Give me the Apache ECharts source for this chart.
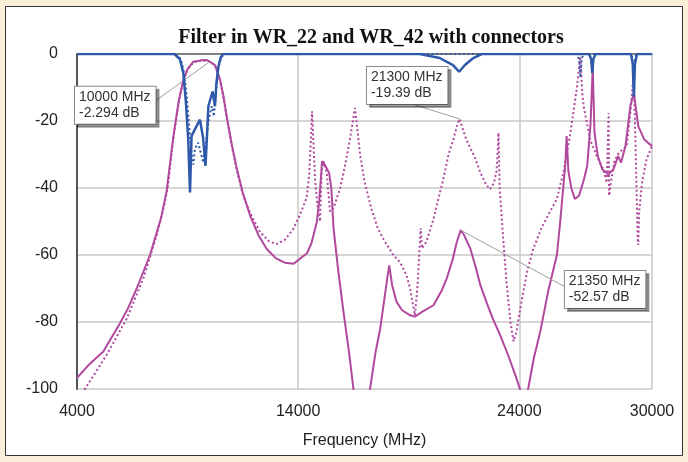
<!DOCTYPE html>
<html>
<head>
<meta charset="utf-8">
<script src="https://cdn.jsdelivr.net/npm/echarts@6/dist/echarts.min.js"></script>
<style>
  html, body { margin: 0; padding: 0; background: #fcefd9; }
  #chart { width: 688px; height: 462px; }
</style>
</head>
<body>
<div id="chart"></div>
<script>
// frequency (MHz), level (dB)
const magentaSolid = [
  [4000,-96.7],[4500,-93],[5190,-88.8],[5945,-80.4],[6300,-76],[6700,-70],[7300,-60],[7800,-49],
  [8050,-41],[8360,-24.5],[8600,-14],[8810,-7.7],[9000,-4.5],[9260,-2.3],[9600,-1.9],[9870,-1.8],
  [10000,-2.294],[10240,-3.3],[10470,-7.7],[10620,-12.5],[10770,-18.6],[11000,-27],[11220,-34],
  [11500,-41.5],[11830,-48.3],[12200,-54],[12580,-58.2],[13000,-61],[13400,-62.3],[13800,-62.6],
  [14100,-61],[14400,-59.5],[14600,-56.5],[14840,-50.3],[14950,-44],[15030,-37],[15080,-32],
  [15200,-33],[15400,-35.5],[15500,-40],[15600,-52],[15800,-64],[16050,-77],[16300,-89],[16500,-100],
  [16800,-115],[17000,-115],[17250,-100],[17500,-89],[17710,-82],[17900,-73],[18050,-66],[18120,-63.1],
  [18250,-69],[18450,-74],[18700,-76.5],[19060,-78],[19280,-78.4],[19600,-77],[20120,-75],[20500,-70.5],
  [20720,-67],[21000,-61],[21170,-56.2],[21350,-52.57],[21500,-54],[21780,-58],[22000,-63],[22240,-69],
  [22540,-74.5],[22800,-79],[23140,-84],[23500,-90],[23800,-95.5],[24030,-100],[24200,-112],[24400,-100],
  [24650,-91],[24950,-82.8],[25300,-71],[25700,-60],[25850,-50],[25980,-40.4],[26080,-33],[26140,-24.5],
  [26220,-35],[26350,-40],[26510,-43.3],[26700,-42.3],[26900,-38],[27070,-33.4],[27220,-21],[27320,-4],
  [27400,-23.5],[27550,-30.5],[27750,-34.4],[28020,-35.9],[28250,-34.5],[28470,-30.5],[28600,-32.4],
  [28800,-27.5],[29020,-15.6],[29180,-11.6],[29380,-21.6],[29650,-25.5],[30000,-27.5]
];
const magentaDotted = [
  [4000,-108],[4360,-100],[5340,-89.8],[6250,-79],[7000,-67],[7600,-54.2],[7950,-45],[8100,-40],
  [8360,-25],[8600,-14.5],[8810,-8],[9000,-4.6],[9260,-2.5],[9600,-2],[9870,-1.9],[10000,-2.3],
  [10240,-3.4],[10470,-8],[10620,-13],[10770,-19],[11000,-27.5],[11220,-34.5],[11500,-42],[11830,-47.5],
  [12280,-53.2],[12700,-56],[13030,-56.7],[13400,-55.5],[13780,-52.2],[14080,-48],[14380,-43],
  [14500,-36],[14580,-25],[14630,-17.1],[14680,-25],[14760,-37],[14870,-45],[14990,-50],[15060,-35],
  [15150,-32],[15300,-36],[15440,-47],[15600,-46],[15900,-40],[16100,-34],[16300,-27],[16450,-21],
  [16570,-16.1],[16650,-21],[16800,-30],[17000,-38],[17300,-46],[17600,-52],[17850,-55.2],[18300,-60],
  [18600,-62.1],[18900,-66],[19060,-70],[19280,-78],[19400,-69],[19540,-52],[19600,-58],[19800,-56],
  [20120,-49.3],[20350,-43],[20560,-37.4],[20800,-30],[21020,-25.5],[21200,-21],[21300,-19.39],
  [21400,-21.5],[21600,-25.5],[22000,-31],[22240,-35.4],[22500,-39],[22670,-40.4],[22850,-38.5],
  [22970,-35],[23030,-28],[23060,-23.5],[23110,-40],[23270,-55],[23420,-68],[23600,-80],[23740,-85.8],
  [23870,-82.8],[24100,-74],[24350,-65],[24630,-58.2],[25000,-52],[25350,-47.5],[25700,-43.3],
  [25990,-35.4],[26300,-24],[26590,-10.7],[26760,-0.8],[26850,-12],[26920,-16],[27100,-22],[27200,-25.5],
  [27500,-30.5],[27800,-34.4],[27950,-38.4],[28040,-17.6],[28060,-42.3],[28150,-38],[28300,-32],
  [28500,-29.5],[28860,-27.5],[29050,-15.6],[29170,-5.7],[29230,-20],[29300,-40],[29350,-55],[29380,-57],
  [29420,-47],[29550,-38.4],[29750,-31.5],[30000,-27.5]
];
const blueSolid = [
  [4000,0],[8400,0],[8650,-1.5],[8810,-5.7],[8920,-14],[9030,-25.5],[9110,-41.3],[9180,-24.5],
  [9330,-22.5],[9560,-19.6],[9700,-25],[9810,-33.4],[9880,-24],[9940,-15.6],[10130,-11.2],[10240,-15.6],
  [10300,-9],[10390,-3.8],[10500,-1],[10610,0],[19500,0],[20400,-1.2],[21000,-3.3],[21280,-5.3],
  [21540,-3.3],[21920,-1.2],[22300,0],[27150,0],[27250,-1.5],[27300,-5.7],[27350,-1.5],[27450,0],
  [29050,0],[29130,-3],[29180,-12.7],[29230,-3],[29320,0],[30000,0]
];
const blueDotted = [
  [4000,0],[8450,0],[8700,-1.5],[8850,-6],[8980,-14],[9080,-22],[9180,-30],[9260,-33],[9330,-28.4],
  [9480,-26.5],[9560,-27],[9710,-32.4],[9820,-27],[9950,-20],[10090,-15.6],[10190,-18.6],[10290,-10.7],
  [10400,-4],[10520,-1],[10650,0],[26600,0],[26700,-1.5],[26760,-7],[26820,-1.5],[26900,0],
  [29080,0],[29140,-3],[29170,-10],[29200,-3],[29280,0],[30000,0]
];
const markerPoints = [[10000,-2.294],[21300,-19.39],[21350,-52.57]];
const markerText = ['10000 MHz\n-2.294 dB','21300 MHz\n-19.39 dB','21350 MHz\n-52.57 dB'];
// where the leader lines end and where each box's left-middle sits (data space)
const leaderEnds = [[7440,-14.5],[19190,-15],[26060,-69.5]];
const boxAnchors = [[4000,-15.3],[17110,-9.4],[26060,-70.3]];

const MAGENTA = '#b0489d';
const BLUE = '#2e59aa';
const SANS = 'Liberation Sans, Arial, sans-serif';

const chart = echarts.init(document.getElementById('chart'));

const option = {
  animation: false,
  backgroundColor: '#fcefd9',
  graphic: [{
    type: 'rect',
    z: -10,
    shape: { x: 5.5, y: 6.5, width: 677, height: 449 },
    style: { fill: '#fff', stroke: '#333', lineWidth: 1 }
  }],
  title: {
    text: 'Filter in WR_22 and WR_42 with connectors',
    left: 366,
    textAlign: 'center',
    top: 23,
    textStyle: { fontFamily: 'Liberation Serif, Times New Roman, serif', fontWeight: 'bold', fontSize: 20, color: '#111' }
  },
  grid: { left: 77, right: 36, top: 54, bottom: 73 },
  xAxis: {
    type: 'value',
    min: 4000,
    max: 30000,
    interval: 10000,
    name: 'Frequency (MHz)',
    nameLocation: 'middle',
    nameGap: 44,
    nameTextStyle: { fontFamily: SANS, fontSize: 16, color: '#222' },
    axisLine: { lineStyle: { color: '#666', width: 1.5 } },
    axisTick: { show: false },
    axisLabel: {
      fontFamily: SANS, fontSize: 16, color: '#222', margin: 15,
      showMaxLabel: true, showMinLabel: true,
      formatter: (v) => String(v)
    },
    splitLine: { show: true, lineStyle: { color: '#c8c8c8', width: 1.5 } }
  },
  yAxis: {
    type: 'value',
    min: -100,
    max: 0,
    interval: 20,
    axisLine: { show: true, lineStyle: { color: '#555', width: 2 } },
    axisTick: { show: false },
    axisLabel: { fontFamily: SANS, fontSize: 16, color: '#222', margin: 19 },
    splitLine: { show: true, lineStyle: { color: '#c8c8c8', width: 1.5 } }
  },
  series: [
    {
      name: 'S21 dotted',
      type: 'line',
      data: magentaDotted,
      showSymbol: false,
      lineStyle: { color: MAGENTA, width: 2, type: [2, 2.5] },
      z: 2
    },
    {
      name: 'S21',
      type: 'line',
      data: magentaSolid,
      showSymbol: false,
      lineStyle: { color: MAGENTA, width: 2 },
      z: 3,
      markLine: {
        silent: true,
        symbol: 'none',
        label: { show: false },
        lineStyle: { color: '#a0a0a0', width: 1, type: 'solid' },
        data: markerPoints.map((p, i) => [{ coord: p }, { coord: leaderEnds[i] }])
      },
      markPoint: {
        symbol: 'circle',
        symbolSize: 0,
        silent: true,
        data: boxAnchors.map((p, i) => ({
          coord: p,
          label: {
            show: true,
            position: 'right',
            distance: 0,
            offset: i === 0 ? [-2, 0] : [0, 0],
            formatter: markerText[i],
            align: 'left',
            fontFamily: SANS,
            fontSize: 14,
            lineHeight: 16,
            color: '#333',
            backgroundColor: '#fff',
            borderColor: '#8a8a8a',
            borderWidth: 1,
            padding: [3, 5, 2, 4],
            shadowColor: 'rgba(0,0,0,0.35)',
            shadowOffsetX: 3,
            shadowOffsetY: 3,
            shadowBlur: 0
          }
        }))
      }
    },
    {
      name: 'S11 dotted',
      type: 'line',
      data: blueDotted,
      showSymbol: false,
      lineStyle: { color: BLUE, width: 2, type: [2, 2.5] },
      z: 4
    },
    {
      name: 'S11',
      type: 'line',
      data: blueSolid,
      showSymbol: false,
      lineStyle: { color: BLUE, width: 2.5 },
      z: 5
    }
  ]
};

chart.setOption(option);
</script>
</body>
</html>
